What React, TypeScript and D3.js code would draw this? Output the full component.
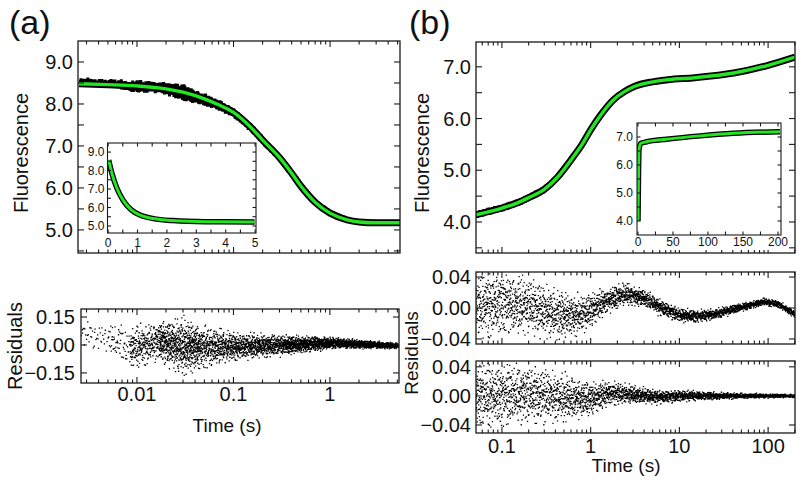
import React from 'react';
import * as d3 from 'd3';

// ---------------- DATA ----------------
// Panel (a): fit curve, log time axis
const fitA_t = [0.0025, 0.005, 0.01, 0.02, 0.03, 0.05, 0.07, 0.1, 0.15, 0.2, 0.3, 0.4, 0.5, 0.7, 1.0, 1.5, 2.0, 3.0, 5.3];
const fitA_F = [8.48, 8.46, 8.43, 8.36, 8.28, 8.12, 7.98, 7.80, 7.45, 7.14, 6.72, 6.35, 6.04, 5.66, 5.40, 5.24, 5.19, 5.17, 5.17];
// Panel (a) inset: linear time axis
const insetA_t = [0.02, 0.13, 0.3, 0.52, 0.8, 1.09, 1.54, 2.2, 3.3, 4.98];
const insetA_F = [8.57, 7.85, 7.04, 6.37, 5.86, 5.59, 5.40, 5.29, 5.23, 5.22];
// Panel (a) residual cloud: knots (time), band centre, band half-width, dots per segment
const residA_t = [0.0026, 0.005, 0.0085, 0.017, 0.03, 0.045, 0.1, 0.35, 1.1, 5.2];
const residA_center = [0.07, 0.04, -0.02, 0.02, -0.01, -0.01, -0.01, 0.0, 0.01, -0.005];
const residA_spread = [0.07, 0.08, 0.10, 0.09, 0.13, 0.10, 0.065, 0.045, 0.025, 0.012];
const residA_count = [40, 60, 250, 380, 270, 400, 650, 750, 900];

// Panel (b): fit curve, log time axis
const fitB_t = [0.051, 0.1, 0.15, 0.2, 0.3, 0.42, 0.6, 0.8, 1.0, 1.3, 1.8, 2.4, 3.1, 5, 7.4, 15, 41, 100, 201];
const fitB_F = [4.14, 4.27, 4.37, 4.47, 4.63, 4.86, 5.2, 5.5, 5.78, 6.07, 6.36, 6.52, 6.62, 6.71, 6.75, 6.79, 6.88, 7.03, 7.19];
// Panel (b) inset: linear time axis
const insetB_t = [0, 0.7, 1.4, 3.8, 12.4, 41, 89, 136, 203];
const insetB_F = [4.0, 5.58, 6.54, 6.77, 6.83, 6.92, 7.04, 7.13, 7.19];
// Panel (b) residuals, upper (systematic) fit
const residB1_t = [0.05, 0.1, 0.2, 0.4, 0.7, 1, 1.5, 2.5, 4, 6, 10, 15, 25, 40, 70, 90, 130, 200];
const residB1_center = [0.005, 0.006, 0.003, -0.008, -0.01, -0.003, 0.009, 0.018, 0.013, 0.001, -0.009, -0.011, -0.008, -0.002, 0.005, 0.008, 0.005, -0.008];
const residB1_spread = [0.04, 0.036, 0.032, 0.028, 0.023, 0.019, 0.015, 0.012, 0.01, 0.009, 0.008, 0.007, 0.006, 0.005, 0.004, 0.004, 0.004, 0.004];
// Panel (b) residuals, lower (good) fit
const residB2_t = [0.05, 0.2, 0.5, 1, 1.7, 3, 6, 10, 20, 50, 200];
const residB2_center = [0.0, 0.003, -0.003, -0.004, 0.004, 0.002, -0.002, 0.0, 0.0, 0.0, 0.0];
const residB2_spread = [0.04, 0.035, 0.028, 0.02, 0.014, 0.011, 0.008, 0.007, 0.005, 0.003, 0.002];
const residB_perDecade = 800;

// tick labels
const mainA_yLabels = [5, 6, 7, 8, 9];
const mainB_yLabels = [4, 5, 6, 7];
const residA_yLabels = [-0.15, 0, 0.15];
const residB_yLabels = [-0.04, 0, 0.04];
const residA_xLabels = [0.01, 0.1, 1];
const residB_xLabels = [0.1, 1, 10, 100];
const insetA_xLabels = [0, 1, 2, 3, 4, 5];
const insetA_yLabels = [5, 6, 7, 8, 9];
const insetB_xLabels = [0, 50, 100, 150, 200];
const insetB_yLabels = [4, 5, 6, 7];

// ---------------- helpers ----------------
const FONT = '"Liberation Sans", Arial, Helvetica, sans-serif';
const GREEN = '#22e622';

// deterministic low-discrepancy (Halton) sequence
const halton = (i: number, b: number) => {
  let f = 1, r = 0;
  while (i > 0) { f /= b; r += f * (i % b); i = Math.floor(i / b); }
  return r;
};

function makeCloud(ts: number[], cs: number[], ss: number[], counts: number[]) {
  const out: [number, number][] = [];
  let idx = 1;
  for (let s = 0; s < ts.length - 1; s++) {
    const n = counts[s];
    const l0 = Math.log(ts[s]), l1 = Math.log(ts[s + 1]);
    for (let k = 0; k < n; k++, idx++) {
      const u = halton(idx, 2);
      const v = (halton(idx, 3) + halton(idx, 5) + halton(idx, 7)) / 3 * 2 - 1;
      const c = cs[s] + (cs[s + 1] - cs[s]) * u;
      const sp = ss[s] + (ss[s + 1] - ss[s]) * u;
      out.push([Math.exp(l0 + u * (l1 - l0)), c + v * sp * 1.5]);
    }
  }
  return out;
}
const countsFor = (ts: number[]) => ts.slice(1).map((t, i) => Math.round(residB_perDecade * Math.log10(t / ts[i])));

const cloudA = makeCloud(residA_t, residA_center, residA_spread, residA_count);
const cloudB1 = makeCloud(residB1_t, residB1_center, residB1_spread, countsFor(residB1_t));
const cloudB2 = makeCloud(residB2_t, residB2_center, residB2_spread, countsFor(residB2_t));

const fitFnA = d3.scaleLog().domain(fitA_t).range(fitA_F).clamp(true);
const fitFnB = d3.scaleLog().domain(fitB_t).range(fitB_F).clamp(true);

function dotPath(pts: [number, number][], x: (v: number) => number, y: (v: number) => number, s: number) {
  let p = '';
  for (const [a, b] of pts) {
    p += `M${(x(a) - s / 2).toFixed(1)},${(y(b) - s / 2).toFixed(1)}h${s}v${s}h${-s}z`;
  }
  return p;
}

type Tick = { v: number; major: boolean };
const isDecade = (v: number) => Math.abs(Math.log10(v) - Math.round(Math.log10(v))) < 1e-9;
function logTicks(sc: any): Tick[] {
  const [a, b] = sc.domain();
  return sc.ticks().filter((v: number) => v > a && v < b).map((v: number) => ({ v, major: isDecade(v) }));
}
function linTicks(sc: any, step: number, majorStep: number): Tick[] {
  const [a, b] = sc.domain();
  const start = Math.ceil(a / step - 1e-9) * step;
  const out: Tick[] = [];
  for (let v = start; v < b - 1e-9; v += step) {
    const vv = Math.round(v * 1e6) / 1e6;
    if (vv <= a + 1e-9) continue;
    out.push({ v: vv, major: Math.abs(vv / majorStep - Math.round(vv / majorStep)) < 1e-6 });
  }
  return out;
}

function Frame({ x, y, xt, yt, maj, min, sw = 1.3 }: any) {
  const [x0, x1] = x.range();
  const [y1, y0] = y.range();
  const lines: any[] = [];
  xt.forEach((t: Tick, i: number) => {
    const px = x(t.v), L = t.major ? maj : min;
    lines.push(<line key={'xb' + i} x1={px} x2={px} y1={y1} y2={y1 - L} />);
    lines.push(<line key={'xt' + i} x1={px} x2={px} y1={y0} y2={y0 + L} />);
  });
  yt.forEach((t: Tick, i: number) => {
    const py = y(t.v), L = maj;
    lines.push(<line key={'yl' + i} x1={x0} x2={x0 + L} y1={py} y2={py} />);
    lines.push(<line key={'yr' + i} x1={x1} x2={x1 - L} y1={py} y2={py} />);
  });
  return (
    <g stroke="#1a1a1a" strokeWidth={1.1} fill="none">
      {lines}
      <rect x={x0} y={y0} width={x1 - x0} height={y1 - y0} strokeWidth={sw} />
    </g>
  );
}

function YLabels({ y, x0, vals, fmt, size, gap }: any) {
  return (
    <g fontFamily={FONT} fontSize={size} textAnchor="end" fill="#111">
      {vals.map((v: number, i: number) => (
        <text key={i} x={x0 - gap} y={y(v)} dy="0.36em">{fmt(v)}</text>
      ))}
    </g>
  );
}
function XLabels({ x, yb, vals, fmt, size }: any) {
  return (
    <g fontFamily={FONT} fontSize={size} textAnchor="middle" fill="#111">
      {vals.map((v: number, i: number) => (
        <text key={i} x={x(v)} y={yb}>{fmt(v)}</text>
      ))}
    </g>
  );
}
function VLabel({ x, y, text, size }: any) {
  return (
    <text transform={`translate(${x},${y}) rotate(-90)`} textAnchor="middle" fontFamily={FONT} fontSize={size} fill="#111">{text}</text>
  );
}

const f1 = d3.format('.1f');
const f2 = d3.format('.2f');
const f0 = (v: number) => String(v);
const fLog = (v: number) => (v >= 1 ? String(v) : String(+v.toPrecision(1)));

export default function App() {
  // scales panel (a)
  const xA = d3.scaleLog().domain([0.00245, 5.3]).range([78, 400]);
  const yA = d3.scaleLinear().domain([4.45, 9.5]).range([253, 41]);
  const xRA = d3.scaleLog().domain([0.00263, 5.2]).range([81, 399]);
  const yRA = d3.scaleLinear().domain([-0.204, 0.193]).range([383, 309]);
  const xIA = d3.scaleLinear().domain([-0.02, 5.03]).range([107.5, 256]);
  const yIA = d3.scaleLinear().domain([4.62, 9.49]).range([233, 143]);
  // scales panel (b)
  const xB = d3.scaleLog().domain([0.051, 201]).range([476, 795]);
  const yB = d3.scaleLinear().domain([3.40, 7.48]).range([253, 42]);
  const yRB1 = d3.scaleLinear().domain([-0.0465, 0.0465]).range([344, 272]);
  const yRB2 = d3.scaleLinear().domain([-0.051, 0.048]).range([433, 361]);
  const xIB = d3.scaleLinear().domain([-1.4, 204.3]).range([637, 781]);
  const yIB = d3.scaleLinear().domain([3.5, 7.5]).range([235, 123]);

  const lineA = d3.line<number>().x((_, i) => xA(fitA_t[i])).y((d) => yA(d)).curve(d3.curveMonotoneX)(fitA_F) || '';
  const lineB = d3.line<number>().x((_, i) => xB(fitB_t[i])).y((d) => yB(d)).curve(d3.curveMonotoneX)(fitB_F) || '';
  const lineIA = d3.line<number>().x((_, i) => xIA(insetA_t[i])).y((d) => yIA(d)).curve(d3.curveMonotoneX)(insetA_F) || '';
  const lineIB = d3.line<number>().x((_, i) => xIB(insetB_t[i])).y((d) => yIB(d)).curve(d3.curveMonotoneX)(insetB_F) || '';

  const dataA = cloudA.map(([t, r]) => [t, fitFnA(t) + r] as [number, number]);
  const dataB = cloudB2.map(([t, r]) => [t, fitFnB(t) + r] as [number, number]);

  const clip = (id: string, x: any, y: any) => {
    const [x0, x1] = x.range(); const [y1, y0] = y.range();
    return <clipPath id={id}><rect x={x0} y={y0} width={x1 - x0} height={y1 - y0} /></clipPath>;
  };

  return (
    <svg width={800} height={482} style={{ position: 'absolute', left: 0, top: 0, background: '#fff' }}>
      <defs>
        {clip('cA', xA, yA)}{clip('cRA', xRA, yRA)}{clip('cB', xB, yB)}
        {clip('cRB1', xB, yRB1)}{clip('cRB2', xB, yRB2)}{clip('cIA', xIA, yIA)}{clip('cIB', xIB, yIB)}
      </defs>
      <rect x={0} y={0} width={800} height={482} fill="#fff" />

      {/* ---------- panel (a) ---------- */}
      <text x={9} y={34} fontFamily={FONT} fontSize={34} fill="#111">(a)</text>
      <g clipPath="url(#cA)">
        <path d={dotPath(dataA, xA, yA, 3)} fill="#000" />
        <path d={lineA} stroke="#000" strokeWidth={7} fill="none" />
        <path d={lineA} stroke={GREEN} strokeWidth={3.4} fill="none" />
      </g>
      <Frame x={xA} y={yA} xt={logTicks(xA)} yt={linTicks(yA, 0.5, 1)} maj={6} min={3.5} />
      <YLabels y={yA} x0={78} vals={mainA_yLabels} fmt={f1} size={20} gap={5} />
      <VLabel x={28} y={153} text="Fluorescence" size={20} />

      {/* inset (a) */}
      <g clipPath="url(#cIA)">
        <path d={lineIA} stroke="#000" strokeWidth={5.5} fill="none" />
        <path d={lineIA} stroke={GREEN} strokeWidth={3} fill="none" />
      </g>
      <Frame x={xIA} y={yIA} xt={linTicks(xIA, 0.5, 1)} yt={linTicks(yIA, 0.5, 1)} maj={3.5} min={3.5} sw={1.1} />
      <YLabels y={yIA} x0={107.5} vals={insetA_yLabels} fmt={f1} size={12} gap={3} />
      <XLabels x={xIA} yb={247} vals={insetA_xLabels} fmt={f0} size={12} />

      {/* residuals (a) */}
      <g clipPath="url(#cRA)">
        <path d={dotPath(cloudA, xRA, yRA, 1.3)} fill="#000" />
      </g>
      <Frame x={xRA} y={yRA} xt={logTicks(xRA)} yt={residA_yLabels.map((v) => ({ v, major: true }))} maj={6} min={3.5} />
      <YLabels y={yRA} x0={81} vals={residA_yLabels} fmt={f2} size={20} gap={6} />
      <XLabels x={xRA} yb={401} vals={residA_xLabels} fmt={fLog} size={20} />
      <VLabel x={22} y={346} text="Residuals" size={20} />
      <text x={227} y={432} textAnchor="middle" fontFamily={FONT} fontSize={19} fill="#111">Time (s)</text>

      {/* ---------- panel (b) ---------- */}
      <text x={409} y={34} fontFamily={FONT} fontSize={34} fill="#111">(b)</text>
      <g clipPath="url(#cB)">
        <path d={dotPath(dataB, xB, yB, 3)} fill="#000" />
        <path d={lineB} stroke="#000" strokeWidth={7} fill="none" />
        <path d={lineB} stroke={GREEN} strokeWidth={3.4} fill="none" />
      </g>
      <Frame x={xB} y={yB} xt={logTicks(xB)} yt={linTicks(yB, 0.5, 1)} maj={6} min={3.5} />
      <YLabels y={yB} x0={476} vals={mainB_yLabels} fmt={f1} size={20} gap={5} />
      <VLabel x={429} y={153} text="Fluorescence" size={20} />

      {/* inset (b) */}
      <rect x={607} y={122} width={175} height={128} fill="#fff" />
      <g clipPath="url(#cIB)">
        <path d={lineIB} stroke="#000" strokeWidth={5.5} fill="none" />
        <path d={lineIB} stroke={GREEN} strokeWidth={3} fill="none" />
      </g>
      <Frame x={xIB} y={yIB} xt={linTicks(xIB, 25, 50)} yt={linTicks(yIB, 0.5, 1)} maj={3.5} min={3.5} sw={1.1} />
      <YLabels y={yIB} x0={637} vals={insetB_yLabels} fmt={f1} size={12} gap={4} />
      <XLabels x={xIB} yb={246} vals={insetB_xLabels} fmt={f0} size={12} />

      {/* residuals (b) */}
      <g clipPath="url(#cRB1)">
        <path d={dotPath(cloudB1, xB, yRB1, 1.3)} fill="#000" />
      </g>
      <Frame x={xB} y={yRB1} xt={logTicks(xB)} yt={residB_yLabels.map((v) => ({ v, major: true }))} maj={6} min={3.5} />
      <YLabels y={yRB1} x0={476} vals={residB_yLabels} fmt={f2} size={20} gap={5} />
      <g clipPath="url(#cRB2)">
        <path d={dotPath(cloudB2, xB, yRB2, 1.3)} fill="#000" />
      </g>
      <Frame x={xB} y={yRB2} xt={logTicks(xB)} yt={residB_yLabels.map((v) => ({ v, major: true }))} maj={6} min={3.5} />
      <YLabels y={yRB2} x0={476} vals={residB_yLabels} fmt={f2} size={20} gap={5} />
      <XLabels x={xB} yb={453} vals={residB_xLabels} fmt={fLog} size={20} />
      <VLabel x={418} y={353} text="Residuals" size={19} />
      <text x={626} y={472} textAnchor="middle" fontFamily={FONT} fontSize={19} fill="#111">Time (s)</text>
    </svg>
  );
}
